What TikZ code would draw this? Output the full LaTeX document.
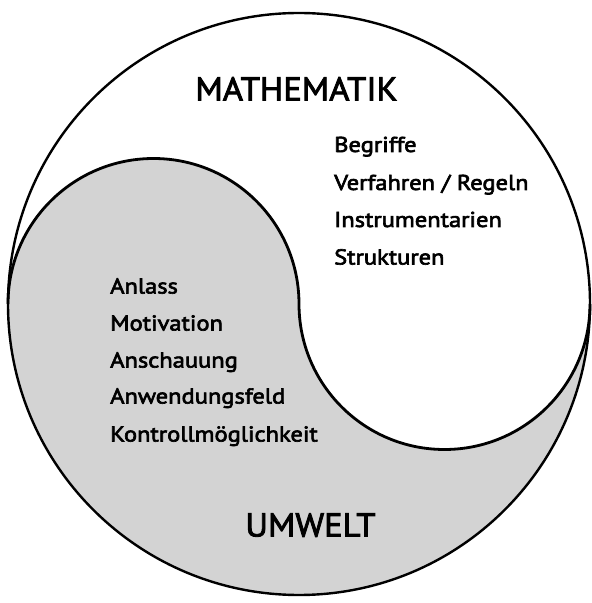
\documentclass[tikz,border=0pt]{standalone}
\usepackage{fontspec}
\setmainfont{PT Sans}
\newfontfamily\listfont[FakeStretch=1.14,FakeBold=3]{PT Sans}
\newfontfamily\titlefont[FakeStretch=1.05,FakeBold=2.6]{PT Sans}
\definecolor{lobegray}{RGB}{211,211,211}
\begin{document}
\begin{tikzpicture}[x=1pt,y=1pt,
  title/.style={font=\titlefont\fontsize{33}{33}\selectfont, inner sep=0pt},
  item/.style={font=\listfont\fontsize{21.5}{21.5}\selectfont, inner sep=0pt, anchor=base west},
  rim/.style={line width=2.8pt, draw=black}]
\useasboundingbox (0,0) rectangle (592,603);
% gray lower region
\fill[lobegray] (8,299) arc[start angle=180, end angle=0, radius=145.5]
  arc[start angle=180, end angle=360, radius=145.5]
  arc[start angle=0, end angle=-180, radius=291] -- cycle;
% S curve
\draw[rim] (8,299) arc[start angle=180, end angle=0, radius=145.5]
  arc[start angle=180, end angle=360, radius=145.5];
% outer circle
\draw[rim, line width=2.4pt] (299,299) circle[radius=291];
% titles
\node[title, anchor=base] (math) at (296.5,502.5) {MATHEMATIK};
\node[title, anchor=base] (umw) at (310.5,66.5) {UMWELT};
% right list
\node[item] (r1) at (334,451) {Begriffe};
\node[item] (r2) at (334,413) {Verfahren / Regeln};
\node[item] (r3) at (334,376) {Instrumentarien};
\node[item] (r4) at (334,338.5) {Strukturen};
% left list
\node[item] (l1) at (110,309.5) {Anlass};
\node[item] (l2) at (110,272.5) {Motivation};
\node[item] (l3) at (110,235.5) {Anschauung};
\node[item] (l4) at (110,199.5) {Anwendungsfeld};
\node[item] (l5) at (110,161.5) {Kontrollmöglichkeit};
\end{tikzpicture}
\end{document}
